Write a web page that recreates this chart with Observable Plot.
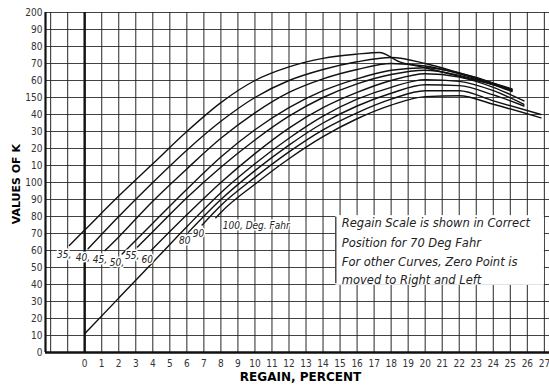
<!DOCTYPE html>
<html><head><meta charset="utf-8">
<script src="https://cdn.jsdelivr.net/npm/d3@7"></script>
<script src="https://cdn.jsdelivr.net/npm/@observablehq/plot@0.6"></script>
<style>body{margin:0;background:#fff}#chart svg{display:block}</style>
</head><body><div id="chart"></div>
<script>
const temps = ["35","40","45","50","55","60","70","80","90","100"];
const curveLabels = ["35,","40,","45,","50,","55,","60","","80","90","100, Deg. Fahr"];

const x35 = [-0.9,0,2,4,6,8,10,12,14,16,17.3,18.5,20,22,24,25.1];
const k35 = [63,72,92,111,130,147,160,168,173,175.5,176.5,171,167.5,162.5,157.5,154.5];
const x40 = [0.2,2,4,6,8,10,12,14,16,18,20,22,24,25.1];
const k40 = [61,80,100,119,136,150,160,166.5,171,173.5,170,164.5,158.5,155];
const x45 = [1.2,2,4,6,8,10,12,14,16,18,20,22,24,25.1];
const k45 = [60,68,89,108,126,141,153,161,166.5,170,168.5,164,158,154.5];
const x50 = [2.2,4,6,8,10,12,14,16,18,20,22,24,25.1];
const k50 = [58,76,96,115,131,144,154,161,166,167.5,164.5,158.5,154];
const x55 = [3.1,4,6,8,10,12,14,16,18,20,22,24,25.1];
const k55 = [62,71,91,109,125,139,150,158,163.5,166,163,157.5,153.5];
const x60 = [3.9,6,8,10,12,14,16,18,20,22,24,25.8];
const k60 = [60,81,100,117,132,144,153,160,164,162,156,148];
const x70 = [0,2,4,6,8,10,12,14,16,18,20,22,24,25.8];
const k70 = [11,32,53,74,94,111,126,139,149,156,160.5,159.5,154,146];
const x80 = [6.1,8,10,12,14,16,18,20,22,24,25.8];
const k80 = [70.8,90,107,122,135,145,152.5,157.5,157,151.5,145];
const x90 = [6.9,8,10,12,14,16,18,20,22,24,26.8];
const k90 = [75,86.5,103,118,131,141,149,154,154,148,140];
const x100 = [7.7,8,10,12,14,16,18,20,22,24,26.8];
const k100 = [79.2,82.4,99,114,127,137.5,145.5,150.5,151,146,138];

const xTicks = [0,1,2,3,4,5,6,7,8,9,10,11,12,13,14,15,16,17,18,19,20,21,22,23,24,25,26,27];
const xGrid = [-2,-1,0,1,2,3,4,5,6,7,8,9,10,11,12,13,14,15,16,17,18,19,20,21,22,23,24,25,26,27];
const yTicks = [0,10,20,30,40,50,60,70,80,90,100,110,120,130,140,150,160,170,180,190,200];
const yTickLabels = ["0","10","20","30","40","50","60","70","80","90","100","10","20","30","40","150","60","70","80","90","200"];

const noteLines = ["Regain Scale is shown in Correct","Position for 70 Deg Fahr","For other Curves, Zero Point is","moved to Right and Left"];
const noteX = 15.1;
const noteY = [76, 64.3, 53, 42.2];
const noteBox = {x1: 14.75, x2: 27, y1: 39.5, y2: 80.5};
const yTitlePos = {x: -2.3, k: 99};

const xs = [x35,x40,x45,x50,x55,x60,x70,x80,x90,x100];
const ks = [k35,k40,k45,k50,k55,k60,k70,k80,k90,k100];
const rows = temps.flatMap((t, j) => xs[j].map((x, i) => ({t, x, k: ks[j][i]})));
const starts = temps.map((t, j) => ({t, x: xs[j][0], k: ks[j][0], label: curveLabels[j]})).filter(d => d.label);
const leftLabels = starts.filter(d => +d.t <= 90);
const rightLabels = starts.filter(d => +d.t > 90);
const yLab = new Map(yTicks.map((v, i) => [v, yTickLabels[i]]));

const font = "'DejaVu Sans Condensed', 'DejaVu Sans', sans-serif";
const chart = Plot.plot({
  width: 549, height: 388,
  marginLeft: 45, marginRight: 0, marginTop: 12, marginBottom: 36,
  style: {fontFamily: font, background: "#fff"},
  x: {domain: [-2.3, 27.3], axis: null},
  y: {domain: [0, 200], axis: null},
  marks: [
    Plot.ruleX(xGrid, {stroke: "#222", strokeWidth: 1.15, strokeOpacity: 0.85}),
    Plot.ruleY(yTicks, {stroke: "#222", strokeWidth: 1.15, strokeOpacity: 0.85}),
    Plot.rect([noteBox], {x1: "x1", x2: "x2", y1: "y1", y2: "y2", fill: "white"}),
    Plot.ruleX([noteBox.x1], {y1: noteBox.y1 + 1, y2: noteBox.y2 - 1, stroke: "#222", strokeWidth: 1.2}),
    Plot.text(noteLines, {x: noteX, y: (d, i) => noteY[i], text: d => d, textAnchor: "start", fontSize: 11.5, fontFamily: "'DejaVu Sans', sans-serif", fontStyle: "italic", fill: "#222"}),
    Plot.ruleX([0], {stroke: "#111", strokeWidth: 2.4}),
    Plot.ruleX([-2.3], {stroke: "#111", strokeWidth: 2.2}),
    Plot.ruleY([0], {stroke: "#111", strokeWidth: 2.4}),
    Plot.line(rows, {x: "x", y: "k", z: "t", stroke: "#111", strokeWidth: 1.4, curve: "monotone-x"}),
    Plot.text(leftLabels, {x: "x", y: "k", text: "label", textAnchor: "end", dx: 2, dy: 9, fontSize: 10, fontStyle: "italic", fill: "#222", stroke: "white", strokeWidth: 3}),
    Plot.text(rightLabels, {x: "x", y: "k", text: "label", textAnchor: "start", dx: 7, dy: 8, fontSize: 10, fontStyle: "italic", fill: "#222", stroke: "white", strokeWidth: 3}),
    Plot.axisX(xTicks, {tickSize: 0, tickPadding: 7, fontSize: 10, fill: "#333", label: null}),
    Plot.axisY(yTicks, {tickSize: 0, tickPadding: 3, fontSize: 10, fill: "#333", label: null, tickFormat: d => yLab.get(d)}),
    Plot.text(["REGAIN, PERCENT"], {frameAnchor: "bottom", dy: 28, dx: 3, fontSize: 12, fontFamily: "'DejaVu Sans', sans-serif", fontWeight: "bold", fill: "#000"}),
    Plot.text([yTitlePos], {x: "x", y: "k", text: () => "VALUES OF K", dx: -29, rotate: -90, fontSize: 11, fontFamily: "'DejaVu Sans', sans-serif", fontWeight: "bold", fill: "#000"})
  ]
});
document.getElementById("chart").append(chart);
</script>
</body></html>
